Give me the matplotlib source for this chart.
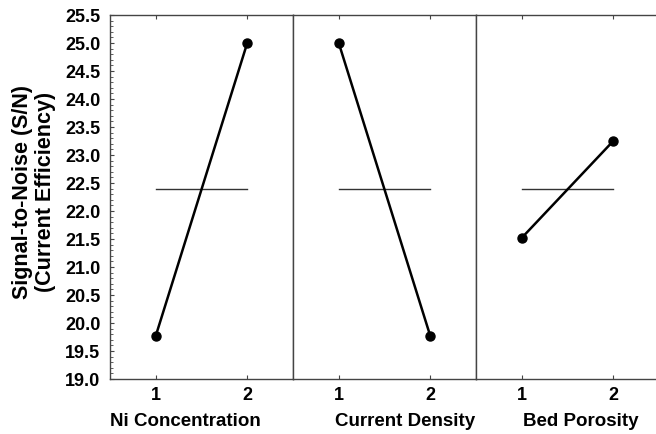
import matplotlib
matplotlib.use("Agg")
import matplotlib.pyplot as plt
from matplotlib.ticker import MultipleLocator

plt.rcParams['font.family'] = ['Liberation Sans', 'DejaVu Sans']

factors = ["Ni Concentration", "Current Density", "Bed Porosity"]
levels = [1, 2]
sn_values = [
    [19.77, 25.00],
    [25.00, 19.77],
    [21.52, 23.25],
]
overall_mean = 22.385
label_centers = [0.41, 0.61, 0.57]

fig = plt.figure(figsize=(6.56, 4.35), dpi=100)
W, H = 656, 435
left_px, top_px, bottom_px = 110, 16, 380
panel_w = 183

for i, (name, vals) in enumerate(zip(factors, sn_values)):
    x0 = left_px + i * panel_w
    ax = fig.add_axes([x0 / W, 1 - bottom_px / H, panel_w / W, (bottom_px - top_px) / H])
    ax.plot(levels, [overall_mean, overall_mean], color='#333333', lw=1.0)
    ax.plot(levels, vals, color='black', lw=1.8, marker='o', ms=6.5)
    ax.set_xlim(0.5, 2.5)
    ax.set_ylim(19.0, 25.5)
    ax.set_xticks(levels)
    ax.set_xticklabels([str(l) for l in levels], fontsize=13, fontweight='bold')
    ax.tick_params(axis='x', direction='in', length=3, top=True, pad=5, color='#444444')
    for s in ax.spines.values():
        s.set_color('#444444')
        s.set_linewidth(1.0)
    if i == 0:
        ax.yaxis.set_major_locator(MultipleLocator(0.5))
        ax.yaxis.set_minor_locator(MultipleLocator(0.1))
        ax.set_yticklabels([f"{v:.1f}" for v in ax.get_yticks()], fontsize=13, fontweight='bold')
        ax.tick_params(axis='y', which='major', direction='in', length=3, pad=7, color='#444444')
        ax.tick_params(axis='y', which='minor', direction='in', length=2, color='#444444')
    else:
        ax.set_yticks([])
    ax.set_xlabel(name, fontsize=13.5, fontweight='bold')
    ax.xaxis.set_label_coords(label_centers[i], -0.09)

fig.text(34 / W, 1 - 192 / H, "Signal-to-Noise (S/N)\n(Current Efficiency)",
         rotation=90, ha='center', va='center', fontsize=15.5, fontweight='bold',
         linespacing=1.12, multialignment='center')

fig.savefig("out.png", dpi=100)
